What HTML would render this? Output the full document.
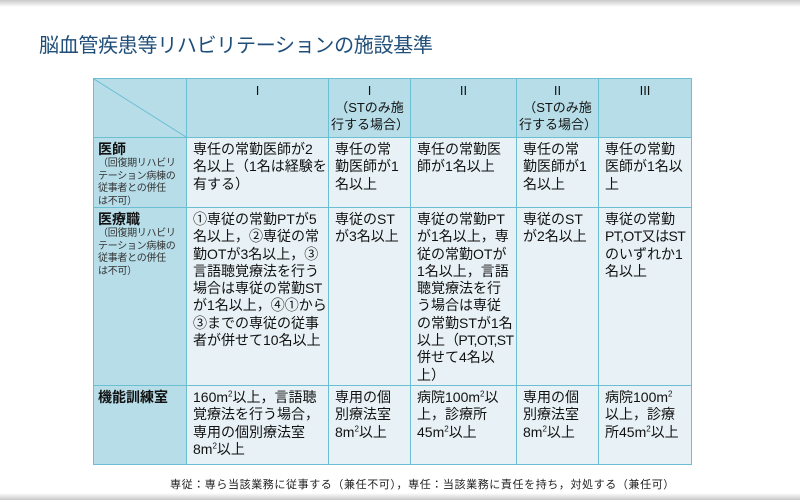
<!DOCTYPE html>
<html><head><meta charset="utf-8"><style>
body{margin:0;width:800px;height:500px;position:relative;background:#fff;overflow:hidden;font-family:"Liberation Sans","Noto Sans CJK JP",sans-serif;}
.sh{position:absolute;left:0;width:800px;height:7px;}
.title{position:absolute;left:39px;top:29px;font-size:20px;color:#1f4e79;letter-spacing:-0.3px;}
.c{position:absolute;box-sizing:border-box;border:1px solid #6cbfd3;font-size:14px;line-height:17.3px;color:#111;padding:3px 6px;white-space:nowrap;}
.h{background:#b7dde8;text-align:center;font-size:13px;line-height:17px;}
.l{background:#b7dde8;font-weight:bold;padding-left:4px;}
.b{background:#e8f1f5;}
.n{letter-spacing:-0.6px;}
.sub{display:block;font-weight:normal;font-size:10px;line-height:12.5px;color:#333;letter-spacing:-0.3px;}
sup{font-size:8px;line-height:0;}
.foot{position:absolute;left:170px;top:476px;font-size:11px;color:#222;letter-spacing:0.6px;white-space:nowrap;}
</style></head><body>
<div class="sh" style="top:0;background:linear-gradient(#c8c8c8,#fff)"></div>
<div class="sh" style="top:493px;background:linear-gradient(#fff,#c8c8c8)"></div>
<div class="title">脳血管疾患等リハビリテーションの施設基準</div>

<div class="c h" style="left:93px;top:78px;width:94px;height:60px;padding:0">
<svg width="92" height="58" style="position:absolute;left:0;top:0"><line x1="0" y1="0" x2="92" y2="58" stroke="#6cbfd3" stroke-width="1"/></svg></div>
<div class="c h" style="left:186px;top:78px;width:143px;height:60px;">I</div>
<div class="c h" style="left:328px;top:78px;width:83px;height:60px;padding:3px 2px">I<br>（STのみ施<br>行する場合）</div>
<div class="c h" style="left:410px;top:78px;width:107px;height:60px;">II</div>
<div class="c h" style="left:516px;top:78px;width:83px;height:60px;padding:3px 2px">II<br>（STのみ施<br>行する場合）</div>
<div class="c h" style="left:598px;top:78px;width:94px;height:60px;">III</div>

<div class="c l" style="left:93px;top:137px;width:94px;height:71px;">医師<span class="sub">（回復期リハビリ<br>テーション病棟の<br>従事者との併任<br>は不可）</span></div>
<div class="c b" style="left:186px;top:137px;width:143px;height:71px;">専任の常勤医師が2<br>名以上（1名は経験を<br>有する）</div>
<div class="c b" style="left:328px;top:137px;width:83px;height:71px;">専任の常<br>勤医師が1<br>名以上</div>
<div class="c b" style="left:410px;top:137px;width:107px;height:71px;">専任の常勤医<br>師が1名以上</div>
<div class="c b" style="left:516px;top:137px;width:83px;height:71px;">専任の常<br>勤医師が1<br>名以上</div>
<div class="c b" style="left:598px;top:137px;width:94px;height:71px;">専任の常勤<br>医師が1名以<br>上</div>

<div class="c l" style="left:93px;top:207px;width:94px;height:179px;">医療職<span class="sub">（回復期リハビリ<br>テーション病棟の<br>従事者との併任<br>は不可）</span></div>
<div class="c b" style="left:186px;top:207px;width:143px;height:179px;">①専従の常勤PTが5<br>名以上，②専従の常<br>勤OTが3名以上，③<br>言語聴覚療法を行う<br>場合は専従の常勤<span class="n">ST</span><br>が1名以上，④①から<br>③までの専従の従事<br>者が併せて10名以上</div>
<div class="c b" style="left:328px;top:207px;width:83px;height:179px;">専従のST<br>が3名以上</div>
<div class="c b" style="left:410px;top:207px;width:107px;height:179px;">専従の常勤PT<br>が1名以上，専<br>従の常勤OTが<br>1名以上，言語<br>聴覚療法を行<br>う場合は専従<br>の常勤STが1名<br>以上<span class="n">（PT,OT,ST</span><br>併せて4名以<br>上）</div>
<div class="c b" style="left:516px;top:207px;width:83px;height:179px;">専従のST<br>が2名以上</div>
<div class="c b" style="left:598px;top:207px;width:94px;height:179px;">専従の常勤<br><span class="n">PT,OT又はST</span><br>のいずれか1<br>名以上</div>

<div class="c l" style="left:93px;top:385px;width:94px;height:80px;">機能訓練室</div>
<div class="c b" style="left:186px;top:385px;width:143px;height:80px;">160m<sup>2</sup>以上，言語聴<br>覚療法を行う場合，<br>専用の個別療法室<br>8m<sup>2</sup>以上</div>
<div class="c b" style="left:328px;top:385px;width:83px;height:80px;">専用の個<br>別療法室<br>8m<sup>2</sup>以上</div>
<div class="c b" style="left:410px;top:385px;width:107px;height:80px;">病院100m<sup>2</sup>以<br>上，診療所<br>45m<sup>2</sup>以上</div>
<div class="c b" style="left:516px;top:385px;width:83px;height:80px;">専用の個<br>別療法室<br>8m<sup>2</sup>以上</div>
<div class="c b" style="left:598px;top:385px;width:94px;height:80px;">病院100m<sup>2</sup><br>以上，診療<br>所45m<sup>2</sup>以上</div>

<div class="foot">専従：専ら当該業務に従事する（兼任不可），専任：当該業務に責任を持ち，対処する（兼任可）</div>
</body></html>
